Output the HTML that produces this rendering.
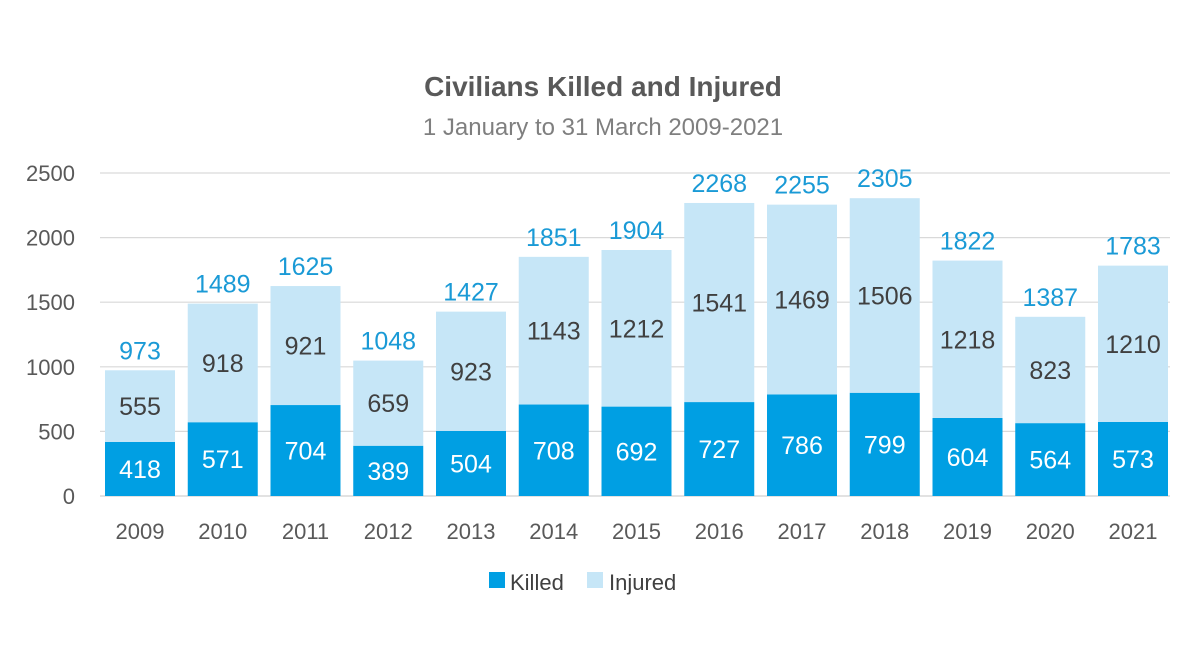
<!DOCTYPE html>
<html><head><meta charset="utf-8"><style>
body{margin:0;background:#fff;}
svg text{font-family:"Liberation Sans",sans-serif;}
</style></head><body>
<svg id="chart" width="1200" height="667">
<text x="603" y="96" text-anchor="middle" font-size="28" font-weight="bold" fill="#595959">Civilians Killed and Injured</text>
<text x="603" y="135" text-anchor="middle" font-size="24" fill="#7f7f7f">1 January to 31 March 2009-2021</text>
<g id="grid"></g><g id="bars"></g><g id="labels"></g>
<g>
<rect x="489" y="572" width="16" height="16" fill="#009fe3"/>
<text x="510" y="590" font-size="22" fill="#404040">Killed</text>
<rect x="587" y="572" width="16" height="16" fill="#c6e6f7"/>
<text x="609" y="590" font-size="22" fill="#404040">Injured</text>
</g>
</svg>
<script>
const years=["2009","2010","2011","2012","2013","2014","2015","2016","2017","2018","2019","2020","2021"];
const killed=[418,571,704,389,504,708,692,727,786,799,604,564,573];
const injured=[555,918,921,659,923,1143,1212,1541,1469,1506,1218,823,1210];
const totals=[973,1489,1625,1048,1427,1851,1904,2268,2255,2305,1822,1387,1783];
const yTicks=[0,500,1000,1500,2000,2500];
const NS="http://www.w3.org/2000/svg";
const y0=496,pxPer=(496-173)/2500;
const Y=v=>y0-v*pxPer;
const X=i=>140+i*82.75;
function mk(tag,attrs,parent,txt){const e=document.createElementNS(NS,tag);for(const k in attrs)e.setAttribute(k,attrs[k]);if(txt!==undefined)e.textContent=txt;parent.appendChild(e);return e;}
const grid=document.getElementById('grid'),bars=document.getElementById('bars'),labels=document.getElementById('labels');
yTicks.forEach(t=>{
 const l=mk('line',{x1:100,x2:1170,y1:Y(t),y2:Y(t),stroke:t===0?'#d0d0d0':'#d9d9d9','stroke-width':1.2},grid);
 
 
 const tx=mk('text',{x:75,y:Y(t)+8,'text-anchor':'end','font-size':22,fill:'#595959'},grid,String(t));
 
 
});
years.forEach((yr,i)=>{
 const cx=X(i),w=70;
 const k=mk('rect',{x:cx-w/2,y:Y(killed[i]),width:w,height:y0-Y(killed[i]),fill:'#009fe3'},bars);
 
 
 const top=killed[i]+injured[i];
 const r=mk('rect',{x:cx-w/2,y:Y(top),width:w,height:Y(killed[i])-Y(top),fill:'#c6e6f7'},bars);
 
 
 const kl=mk('text',{x:cx,y:(Y(killed[i])+y0)/2+9,'text-anchor':'middle','font-size':25,fill:'#fff'},labels,String(killed[i]));
 
 
 const il=mk('text',{x:cx,y:(Y(top)+Y(killed[i]))/2+9,'text-anchor':'middle','font-size':25,fill:'#404040'},labels,String(injured[i]));
 
 
 const tl=mk('text',{x:cx,y:Y(top)-11,'text-anchor':'middle','font-size':25,fill:'#1a9ad6'},labels,String(totals[i]));
 
 
 const xl=mk('text',{x:cx,y:539,'text-anchor':'middle','font-size':22,fill:'#595959'},labels,yr);
 
 
});
</script>
</body></html>
